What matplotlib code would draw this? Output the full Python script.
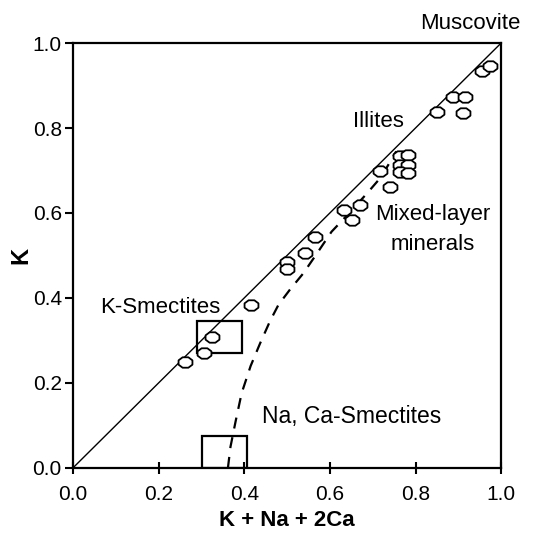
import numpy as np
import matplotlib
matplotlib.use("Agg")
import matplotlib.pyplot as plt
from matplotlib.patches import Rectangle
from matplotlib.path import Path

plt.rcParams['font.family'] = ['Liberation Sans', 'DejaVu Sans']

# ---------------------------------------------- measured samples
sample_x = [0.262, 0.307, 0.325, 0.415, 0.500, 0.500, 0.542, 0.565,
            0.632, 0.651, 0.671, 0.717, 0.741,
            0.764, 0.783, 0.764, 0.783, 0.764, 0.783,
            0.850, 0.888, 0.916, 0.912, 0.955, 0.973]
sample_y = [0.250, 0.270, 0.309, 0.384, 0.485, 0.468, 0.505, 0.543,
            0.607, 0.584, 0.619, 0.698, 0.662,
            0.733, 0.736, 0.713, 0.713, 0.697, 0.694,
            0.838, 0.874, 0.874, 0.836, 0.934, 0.946]

# ---------------------------------------------- mixed-layer trend (dashed)
trend_x = [0.362, 0.368, 0.380, 0.394, 0.415, 0.437, 0.460, 0.480,
           0.507, 0.538, 0.570, 0.604, 0.650, 0.690, 0.720, 0.755]
trend_y = [0.000, 0.050, 0.110, 0.176, 0.240, 0.293, 0.345, 0.384,
           0.420, 0.458, 0.505, 0.556, 0.605, 0.650, 0.685, 0.745]

# ---------------------------------------------- composition fields
k_smectite_box = (0.289, 0.270, 0.105, 0.076)   # x, y, w, h
naca_smectite_box = (0.301, 0.000, 0.106, 0.076)

ticks = [0.0, 0.2, 0.4, 0.6, 0.8, 1.0]
tick_labels = ['0.0', '0.2', '0.4', '0.6', '0.8', '1.0']

fig = plt.figure(figsize=(5.36, 5.41), dpi=100)
ax = fig.add_axes([0.136, 0.135, 0.799, 0.7855])

# 1:1 line (K = K + Na + 2Ca)
ax.plot([0, 1], [0, 1], color='black', lw=1.0)
ax.plot(trend_x, trend_y, color='black', lw=1.6, dashes=(5, 4))

# flattened octagon marker (closed path)
ang = np.deg2rad(22.5 + 45 * np.arange(8))
verts = list(zip(np.cos(ang), 0.75 * np.sin(ang)))
verts.append(verts[0])
codes = [Path.MOVETO] + [Path.LINETO] * 7 + [Path.CLOSEPOLY]
octa = Path(verts, codes)
ax.plot(sample_x, sample_y, linestyle='none', marker=octa, ms=10,
        mfc='white', mec='black', mew=1.3)

for (bx, by, bw, bh) in [k_smectite_box, naca_smectite_box]:
    ax.add_patch(Rectangle((bx, by), bw, bh, fill=False, ec='black',
                           lw=1.6, zorder=1))

ax.text(1.045, 1.045, 'Muscovite', fontsize=16, ha='right', va='center',
        clip_on=False)
ax.text(0.774, 0.815, 'Illites', fontsize=16, ha='right', va='center')
ax.text(0.841, 0.597, 'Mixed-layer', fontsize=16, ha='center', va='center')
ax.text(0.841, 0.527, 'minerals', fontsize=16, ha='center', va='center')
ax.text(0.064, 0.377, 'K-Smectites', fontsize=16, ha='left', va='center')
ax.text(0.442, 0.120, 'Na, Ca-Smectites', fontsize=16.5, ha='left', va='center')

ax.set_xlim(0, 1)
ax.set_ylim(0, 1)
ax.set_xticks(ticks)
ax.set_xticklabels(tick_labels)
ax.set_yticks(ticks)
ax.set_yticklabels(tick_labels)
ax.tick_params(axis='x', direction='inout', length=9, width=1.5,
               labelsize=15, pad=8)
ax.tick_params(axis='y', direction='out', length=6, width=1.5,
               labelsize=15, pad=2)
for s in ax.spines.values():
    s.set_linewidth(1.6)

ax.set_xlabel('K + Na + 2Ca', fontsize=16, fontweight='bold', labelpad=4)
ax.set_ylabel('K', fontsize=17, fontweight='bold', labelpad=0)

fig.savefig('out.png', dpi=100)
